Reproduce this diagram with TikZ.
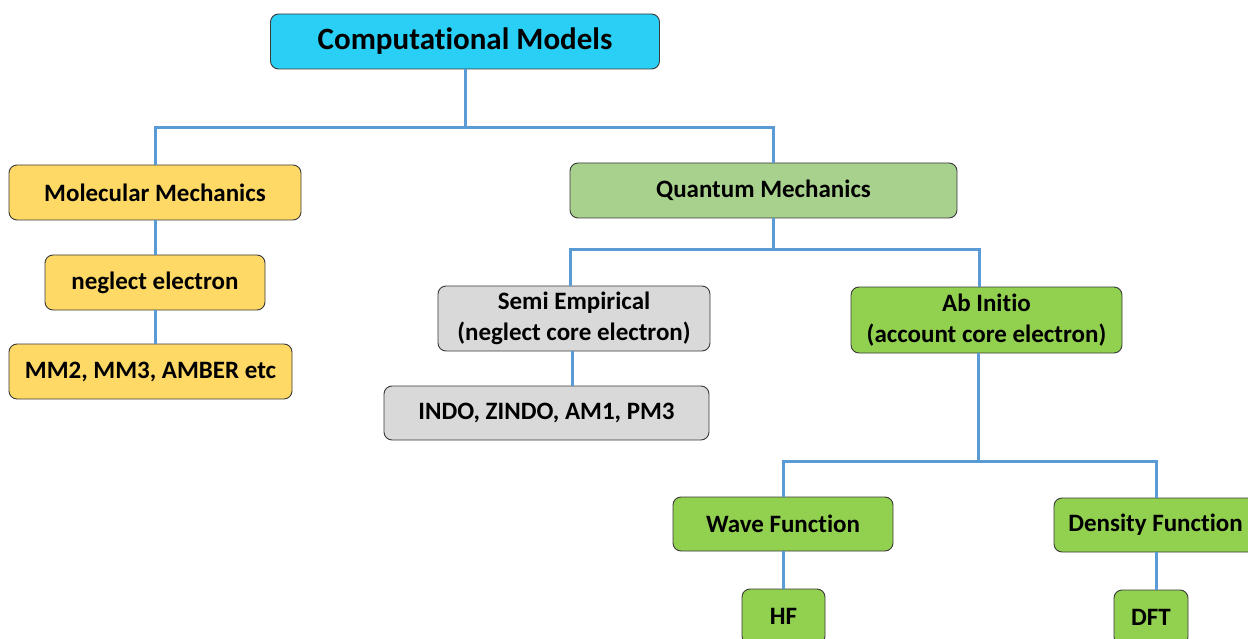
\documentclass[tikz,border=0pt]{standalone}
\usepackage{fontspec}
\setmainfont{Carlito}[Ligatures={NoCommon}]
\definecolor{cyanbox}{HTML}{29CFF4}
\definecolor{yellowbox}{HTML}{FFD966}
\definecolor{lgreenbox}{HTML}{A9D18E}
\definecolor{greenbox}{HTML}{92D050}
\definecolor{graybox}{HTML}{D9D9D9}
\definecolor{linkblue}{HTML}{5B9BD5}
\definecolor{edge}{HTML}{3A3A3A}
\tikzset{
  box/.style={draw=edge, line width=0.9pt, rounded corners=8pt, align=center,
    font=\bfseries\fontsize{25}{31}\selectfont, inner sep=0pt},
  conn/.style={draw=linkblue, line width=3pt},
}
\begin{document}
\begin{tikzpicture}[x=1pt,y=-1pt]
\clip (0,0) rectangle (1248,639);
\fill[white] (0,0) rectangle (1248,639);
% nodes
\node[box, fill=cyanbox, minimum width=389, minimum height=55, font=\bfseries\fontsize{31}{36}\selectfont] (cm) at (465,41.5) {Computational Models};
\node[box, fill=yellowbox, minimum width=292, minimum height=55] (mm) at (155,192.5) {Molecular Mechanics};
\node[box, fill=yellowbox, minimum width=220, minimum height=55] (ne) at (155,282.5) {neglect electron};
\node[box, fill=yellowbox, minimum width=283, minimum height=55] (mmx) at (150.5,371.5) {MM2, MM3, AMBER etc};
\node[box, fill=lgreenbox, minimum width=387, minimum height=55] (qm) at (763.5,190.5) {Quantum Mechanics};
\node[box, fill=graybox, minimum width=272, minimum height=65] (se) at (574,318.5) {Semi Empirical\\(neglect core electron)};
\node[box, fill=graybox, minimum width=325, minimum height=54] (indo) at (546.5,413) {INDO, ZINDO, AM1, PM3};
\node[box, fill=greenbox, minimum width=271, minimum height=66] (ai) at (986.5,320) {Ab Initio\\(account core electron)};
\node[box, fill=greenbox, minimum width=220, minimum height=54] (wf) at (783,524) {Wave Function};
\node[box, fill=greenbox, minimum width=203, minimum height=54] (df) at (1155.5,525) {Density Function};
\node[box, fill=greenbox, minimum width=83, minimum height=55] (hf) at (783.5,616.5) {HF};
\node[box, fill=greenbox, minimum width=74, minimum height=55] (dft) at (1151,617.5) {DFT};
% junctions
\coordinate (j1) at (465,128);
\coordinate (j2) at (773,250);
\coordinate (j3) at (978,461);
% connectors
\draw[conn] (cm.south) -- (j1);
\draw[conn] (mm.north) |- (j1) -| ([xshift=9.5]qm.north);
\draw[conn] (mm.south) -- (ne.north);
\draw[conn] (ne.south) -- (ne.south |- mmx.north);
\draw[conn] ([xshift=9.5]qm.south) -- (j2);
\draw[conn] ([xshift=-4]se.north) |- (j2) -| ([xshift=-7.5]ai.north);
\draw[conn] ([xshift=-2]se.south) -- ([xshift=-2]se.south |- indo.north);
\draw[conn] ([xshift=-8.5]ai.south) -- (j3);
\draw[conn] (wf.north) |- (j3) -| ([xshift=0.5]df.north);
\draw[conn] (wf.south) -- (wf.south |- hf.north);
\draw[conn] ([xshift=0.5]df.south) -- ([xshift=0.5]df.south |- dft.north);
\end{tikzpicture}
\end{document}
